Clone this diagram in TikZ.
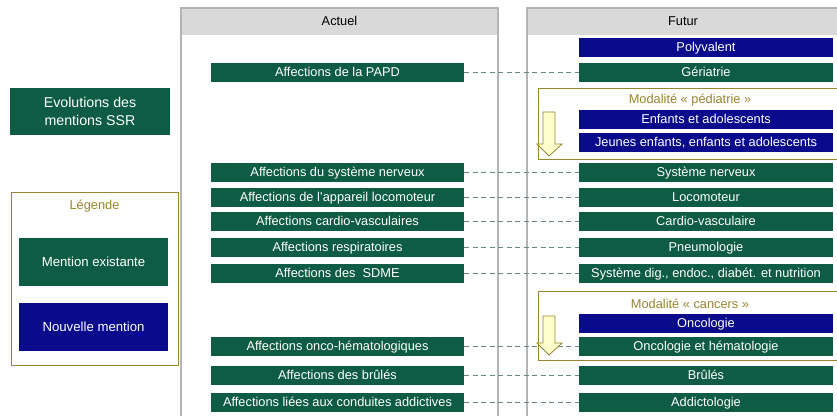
\documentclass[tikz,border=0pt]{standalone}
\usepackage{fontspec}
\setmainfont{Liberation Sans}
\definecolor{vert}{HTML}{0E5C44}
\definecolor{bleu}{HTML}{0A0A8C}
\definecolor{olive}{HTML}{9A8430}
\definecolor{grisl}{HTML}{B4B4B4}
\definecolor{tiret}{HTML}{6A8A80}
\definecolor{entete}{HTML}{D9D9D9}
\definecolor{jaune}{HTML}{FFFFCC}
\begin{document}
\begin{tikzpicture}[x=1pt,y=-1pt,
  txt/.style={font=\fontsize{12.8}{14}\selectfont},
  base/.style={txt,inner sep=0pt,outer sep=0pt,text=white,anchor=north west,text height=9.2pt,text depth=-2pt},
  ex/.style={base,fill=vert},
  nv/.style={base,fill=bleu},
  lien/.style={tiret,dash pattern=on 5pt off 3.5pt,line width=1.5pt},
  cadre/.style={draw=olive,line width=0.9pt},
  colonne/.style={draw=grisl,line width=1.2pt},
  fleche/.style={draw=olive,fill=jaune,line width=0.8pt}]
\useasboundingbox (0,0) rectangle (837,416);
\fill[white] (0,0) rectangle (837,416);
% columns
\fill[entete] (181,8) rectangle (498,35);
\fill[entete] (527,8) rectangle (837,35);
\draw[colonne] (181,416) -- (181,8) -- (498,8) -- (498,416);
\draw[colonne] (527,416) -- (527,8) -- (837,8);
\node[txt] (hact) at (339.5,21) {Actuel};
\node[txt] (hfut) at (683,21) {Futur};
% title
\node[ex,minimum width=160pt,minimum height=47pt,align=center,text height=,text depth=,font=\fontsize{14.2}{18}\selectfont] (titre) at (10,88) {Evolutions des\\mentions SSR};
% legend
\draw[cadre] (11,192) rectangle (178,365);
\node[txt,text=olive] (leg) at (94.5,206) {Légende};
\node[ex,minimum width=149pt,minimum height=48pt,font=\fontsize{13.2}{15}\selectfont] (lex) at (19,238) {Mention existante};
\node[nv,minimum width=149pt,minimum height=48pt,font=\fontsize{13.2}{15}\selectfont] (lnv) at (19,303) {Nouvelle mention};
% modalite frames
\draw[cadre] (838,88) -- (538,88) -- (538,159) -- (838,159);
\node[txt,text=olive] (mped) at (690,100) {Modalité « pédiatrie »};
\draw[cadre] (838,291) -- (538,291) -- (538,360) -- (838,360);
\node[txt,text=olive] (mcan) at (690,304) {Modalité « cancers »};
% actuel boxes
\foreach \n/\y/\t in {a1/63/{Affections de la PAPD},
  a2/163/{Affections du système nerveux},
  a3/188/{Affections de l’appareil locomoteur},
  a4/212/{Affections cardio-vasculaires},
  a5/238/{Affections respiratoires},
  a6/264/{Affections des~~SDME},
  a7/337/{Affections onco-hématologiques},
  a8/366/{Affections des brûlés},
  a9/393/{Affections liées aux conduites addictives}}
  \node[ex,minimum width=253pt,minimum height=18.5pt] (\n) at (211,\y) {\t};
% futur boxes
\foreach \n/\y/\t in {f1/63/{Gériatrie},
  f2/163/{Système nerveux},
  f3/188/{Locomoteur},
  f4/212/{Cardio-vasculaire},
  f5/238/{Pneumologie},
  f6/264/{Système dig., endoc., diabét. et nutrition},
  f7/337/{Oncologie et hématologie},
  f8/366/{Brûlés},
  f9/393/{Addictologie}}
  \node[ex,minimum width=254pt,minimum height=18.5pt] (\n) at (579,\y) {\t};
\foreach \n/\y/\t in {n1/38/{Polyvalent},
  n2/110/{Enfants et adolescents},
  n3/133/{Jeunes enfants, enfants et adolescents},
  n4/314/{Oncologie}}
  \node[nv,minimum width=254pt,minimum height=18.5pt] (\n) at (579,\y) {\t};
% links
\foreach \i in {1,...,9}
  \draw[lien] (a\i.east) -- (f\i.west);
% arrows
\draw[fleche] (543,112) -- (555,112) -- (555,144) -- (562,144) -- (549,156) -- (537,144) -- (543,144) -- cycle;
\draw[fleche] (543,316) -- (555,316) -- (555,343) -- (562,343) -- (549,355) -- (537,343) -- (543,343) -- cycle;
\end{tikzpicture}
\end{document}
